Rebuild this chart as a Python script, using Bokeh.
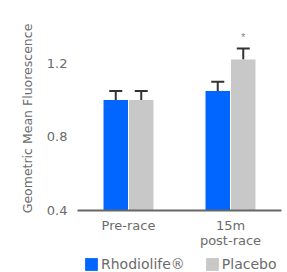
from bokeh.plotting import figure
from bokeh.layouts import column
from bokeh.models import (FactorRange, Range1d, ColumnDataSource, Whisker, TeeHead,
                          Legend, LegendItem, FixedTicker)
from bokeh.transform import dodge
from bokeh.embed import file_html
from bokeh.resources import INLINE

categories = ["Pre-race", "15m\npost-race"]
rhodiolife = [1.00, 1.05]
rhodiolife_err = [0.05, 0.05]
placebo = [1.00, 1.22]
placebo_err = [0.05, 0.06]
y_ticks = [0.4, 0.8, 1.2]
y_base = 0.4
series_names = ["Rhodiolife®", "Placebo"]
series_colors = ["#0066FF", "#C8C8C8"]
significant = ["", "*"]

FONT = "DejaVu Sans"
TXT = "#6b6b6b"

src = ColumnDataSource(dict(
    cat=categories,
    rh=rhodiolife, rh_up=[v + e for v, e in zip(rhodiolife, rhodiolife_err)],
    pl=placebo, pl_up=[v + e for v, e in zip(placebo, placebo_err)],
    base=[y_base] * len(categories),
    sig=significant,
))

p = figure(x_range=FactorRange(*categories), y_range=Range1d(0.4, 1.4),
           width=287, height=256, output_backend="svg", toolbar_location=None,
           min_border_top=26, min_border_left=77, min_border_right=6,
           min_border_bottom=46)
p.outline_line_color = None
p.grid.grid_line_color = None
p.background_fill_color = "white"

off = 0.125
bw = 0.24
p.vbar(x=dodge("cat", -off, range=p.x_range), top="rh", bottom="base", width=bw,
       source=src, fill_color=series_colors[0], line_color=None)
p.vbar(x=dodge("cat", off, range=p.x_range), top="pl", bottom="base", width=bw,
       source=src, fill_color=series_colors[1], line_color=None)

for xoff, lo, up in [(-off, "rh", "rh_up"), (off, "pl", "pl_up")]:
    w = Whisker(base=dodge("cat", xoff, range=p.x_range), lower=lo, upper=up, source=src,
                dimension="height", line_color="#333333", line_width=2,
                upper_head=TeeHead(size=13, line_color="#333333", line_width=2),
                lower_head=None)
    p.add_layout(w)

p.text(x=dodge("cat", off, range=p.x_range), y="pl_up", text="sig", source=src,
       text_align="center", text_baseline="middle", y_offset=-12,
       text_font_size="11px", text_color="#888888")

p.yaxis.ticker = FixedTicker(ticks=y_ticks)
p.yaxis.axis_line_color = None
p.yaxis.major_tick_line_color = None
p.yaxis.minor_tick_line_color = None
p.yaxis.major_label_text_font = FONT
p.yaxis.major_label_text_font_size = "13px"
p.yaxis.major_label_text_color = TXT
p.yaxis.major_label_standoff = 4
p.yaxis.axis_label = "Geometric Mean Fluorescence"
p.yaxis.axis_label_text_font = FONT
p.yaxis.axis_label_text_font_size = "12.5px"
p.yaxis.axis_label_text_font_style = "normal"
p.yaxis.axis_label_text_color = TXT
p.yaxis.axis_label_standoff = 9

p.xaxis.axis_line_color = "#666666"
p.xaxis.axis_line_width = 2
p.xaxis.major_tick_line_color = None
p.xaxis.minor_tick_line_color = None
p.xaxis.major_label_text_font = FONT
p.xaxis.major_label_text_font_size = "13px"
p.xaxis.major_label_text_color = TXT
p.xaxis.major_label_text_line_height = 1.05
p.xaxis.major_label_standoff = 1

# legend row
lg = figure(width=287, height=16, output_backend="svg", toolbar_location=None,
            x_axis_type=None, y_axis_type=None, min_border=0,
            x_range=Range1d(0, 1), y_range=Range1d(0, 1))
lg.outline_line_color = None
lg.grid.grid_line_color = None
k1 = lg.vbar(x=[0], top=[0], bottom=[0], width=0, fill_color=series_colors[0], line_color=None)
k2 = lg.vbar(x=[0], top=[0], bottom=[0], width=0, fill_color=series_colors[1], line_color=None)
legend = Legend(items=[LegendItem(label=series_names[0], renderers=[k1]),
                       LegendItem(label=series_names[1], renderers=[k2])],
                orientation="horizontal", location=(6, 0),
                border_line_color=None, background_fill_alpha=0,
                padding=0, margin=0, spacing=19, label_standoff=2,
                glyph_width=16, glyph_height=16,
                label_text_font=FONT, label_text_font_size="14px",
                label_text_color=TXT, label_height=16)
lg.add_layout(legend, "center")

layout = column(p, lg, spacing=0)
open("out.html", "w").write(file_html(layout, INLINE))
